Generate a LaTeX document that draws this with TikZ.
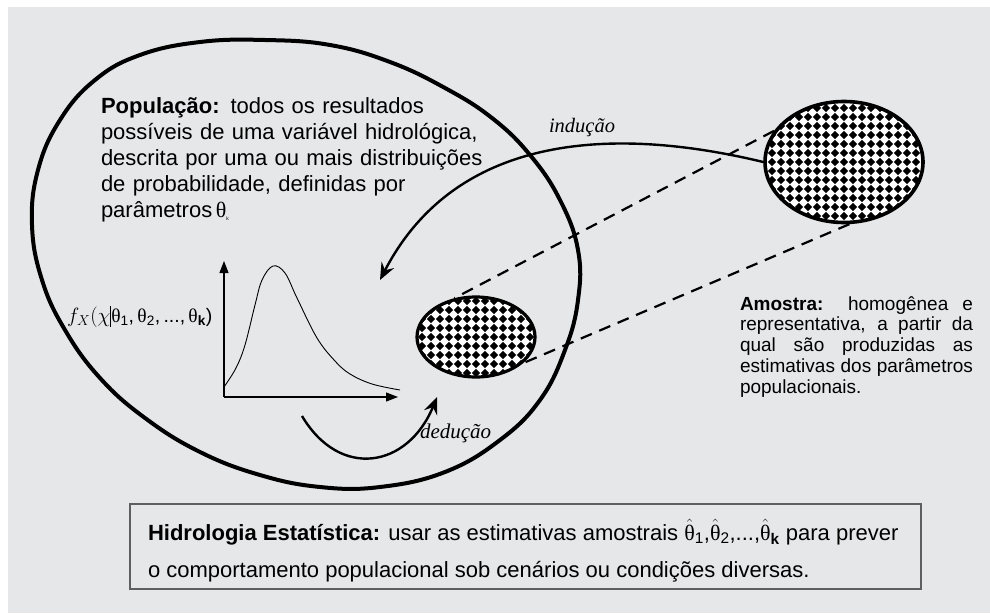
\documentclass[tikz,border=0pt]{standalone}
\usepackage{fontspec}
\usepackage{amsmath}
\setmainfont{Liberation Sans}
\newfontfamily\grk{Liberation Serif}
\usetikzlibrary{arrows.meta,shapes.geometric}
\definecolor{bgc}{RGB}{230,231,232}
\definecolor{boxline}{RGB}{95,95,95}
\newcommand{\mytheta}{{\grk θ}}
\newcommand{\hth}{\ensuremath{\hat{\text{\grk θ}}}}
\begin{document}
\begin{tikzpicture}[x=1pt,y=-1pt,
  txt/.style={inner sep=0pt, outer sep=0pt},
  sample/.style={ellipse, draw, line width=3.6pt, inner sep=0pt,
    path picture={
      \fill[white] (path picture bounding box.south west) rectangle (path picture bounding box.north east);
      \begin{scope}[shift={(path picture bounding box.center)}]
        \foreach \i in {-10,...,10}{\foreach \j in {-8,...,8}{
          \fill (\i*9-4.2,\j*9) -- (\i*9,\j*9-4.2) -- (\i*9+4.2,\j*9) -- (\i*9,\j*9+4.2) -- cycle;}}
      \end{scope}}},
  conn/.style={line width=2.2pt, dash pattern=on 12pt off 8pt},
  flow/.style={line width=2.4pt, -{Stealth[length=17pt,width=14pt,inset=6pt]}},
  axis/.style={line width=1.1pt, -{Triangle[length=12pt,width=9pt]}},
]
\useasboundingbox (0,0) rectangle (990,613);
\fill[white] (0,0) rectangle (990,613);
\fill[bgc] (8,7) rectangle (990,613);

% population oval
\draw[line width=4pt] plot[smooth cycle, tension=0.7] coordinates {
 (265,40) (330,45) (390,62) (445,88) (492,118) (530,155) (560,200) (578,250)
 (578,300) (565,350) (540,400) (500,440) (445,472) (380,487) (320,487) (260,475)
 (200,452) (145,418) (100,378) (65,330) (42,280) (32,225) (38,170) (60,120)
 (95,80) (140,55) (200,42)};

% samples
\node[sample, minimum width=158pt, minimum height=121pt] (big) at (844,162) {};
\node[sample, line width=3.2pt, minimum width=118pt, minimum height=80pt] (small) at (476,337) {};

% dashed cone
\draw[conn] (big.156) -- (small.119);
\draw[conn] (big.275) -- (small.331);

% induction
\coordinate (indTip) at (380,280);
\draw[flow] (big.west) .. controls (610,125) and (455,135) .. (indTip);
\node[txt, anchor=base west, font=\grk\itshape\fontsize{20.5}{24}\selectfont] (ind) at (549,132) {indução};

% graph
\coordinate (orig) at (224,397);
\coordinate (ytop) at (224,261);
\coordinate (xend) at (398,397);
\draw[axis] (orig) -- (ytop);
\draw[axis] (orig) -- (xend);
\draw[line width=0.9pt] plot[smooth, tension=0.6] coordinates {
 (224,387) (236,368) (245,345) (255,305) (262,280) (273,266) (285,273) (297,298)
 (317,338) (335,361) (350,374) (372,384) (400,390)};
\node[txt, anchor=base west, font=\fontsize{19.5}{24}\selectfont] (flab) at (67,322)
 {$f_X(\chi$\rule[-4.5pt]{0.9pt}{21pt}\mytheta\textsubscript{1},\,\mytheta\textsubscript{2},\,...,\,\mytheta\textsubscript{\textbf{k}})};

% deduction
\coordinate (dedStart) at (302,416);
\coordinate (dedTip) at (437,397);
\draw[flow] (dedStart) .. controls (340,480) and (408,468) .. (dedTip);
\node[txt, anchor=base west, font=\grk\itshape\fontsize{21}{24}\selectfont] (ded) at (420,438) {dedução};

% population text
\node[txt, anchor=base west, text width=420pt, align=left, font=\fontsize{22}{26}\selectfont] (pop) at (101,113)
 {\textbf{População:} todos os resultados\\
  possíveis de uma variável hidrológica,\\
  descrita por uma ou mais distribuições\\
  de probabilidade, definidas por\\
  parâmetros\,\mytheta\textsubscript{\tiny k}};

% sample text
\node[txt, anchor=base west, text width=233pt, align=justify, font=\fontsize{19}{20.8}\selectfont] (amo) at (740,310)
 {\textbf{Amostra:} homogênea e\linebreak
  representativa, a partir da\linebreak
  qual são produzidas as\linebreak
  estimativas dos parâmetros\linebreak
  populacionais.};

% bottom box
\node[draw=boxline, line width=1.3pt, minimum width=791pt, minimum height=85pt, inner sep=0pt] (hbox) at (525.5,546.5) {};
\node[txt, anchor=base west, font=\fontsize{22}{26}\selectfont] (hl1) at (148,540)
 {\textbf{Hidrologia Estatística:} usar as estimativas amostrais \hth\textsubscript{1},\hth\textsubscript{2},...,\hth\textsubscript{\textbf{k}} para prever};
\node[txt, anchor=base west, font=\fontsize{22}{26}\selectfont] (hl2) at (148,577)
 {o comportamento populacional sob cenários ou condições diversas.};
\end{tikzpicture}
\end{document}
